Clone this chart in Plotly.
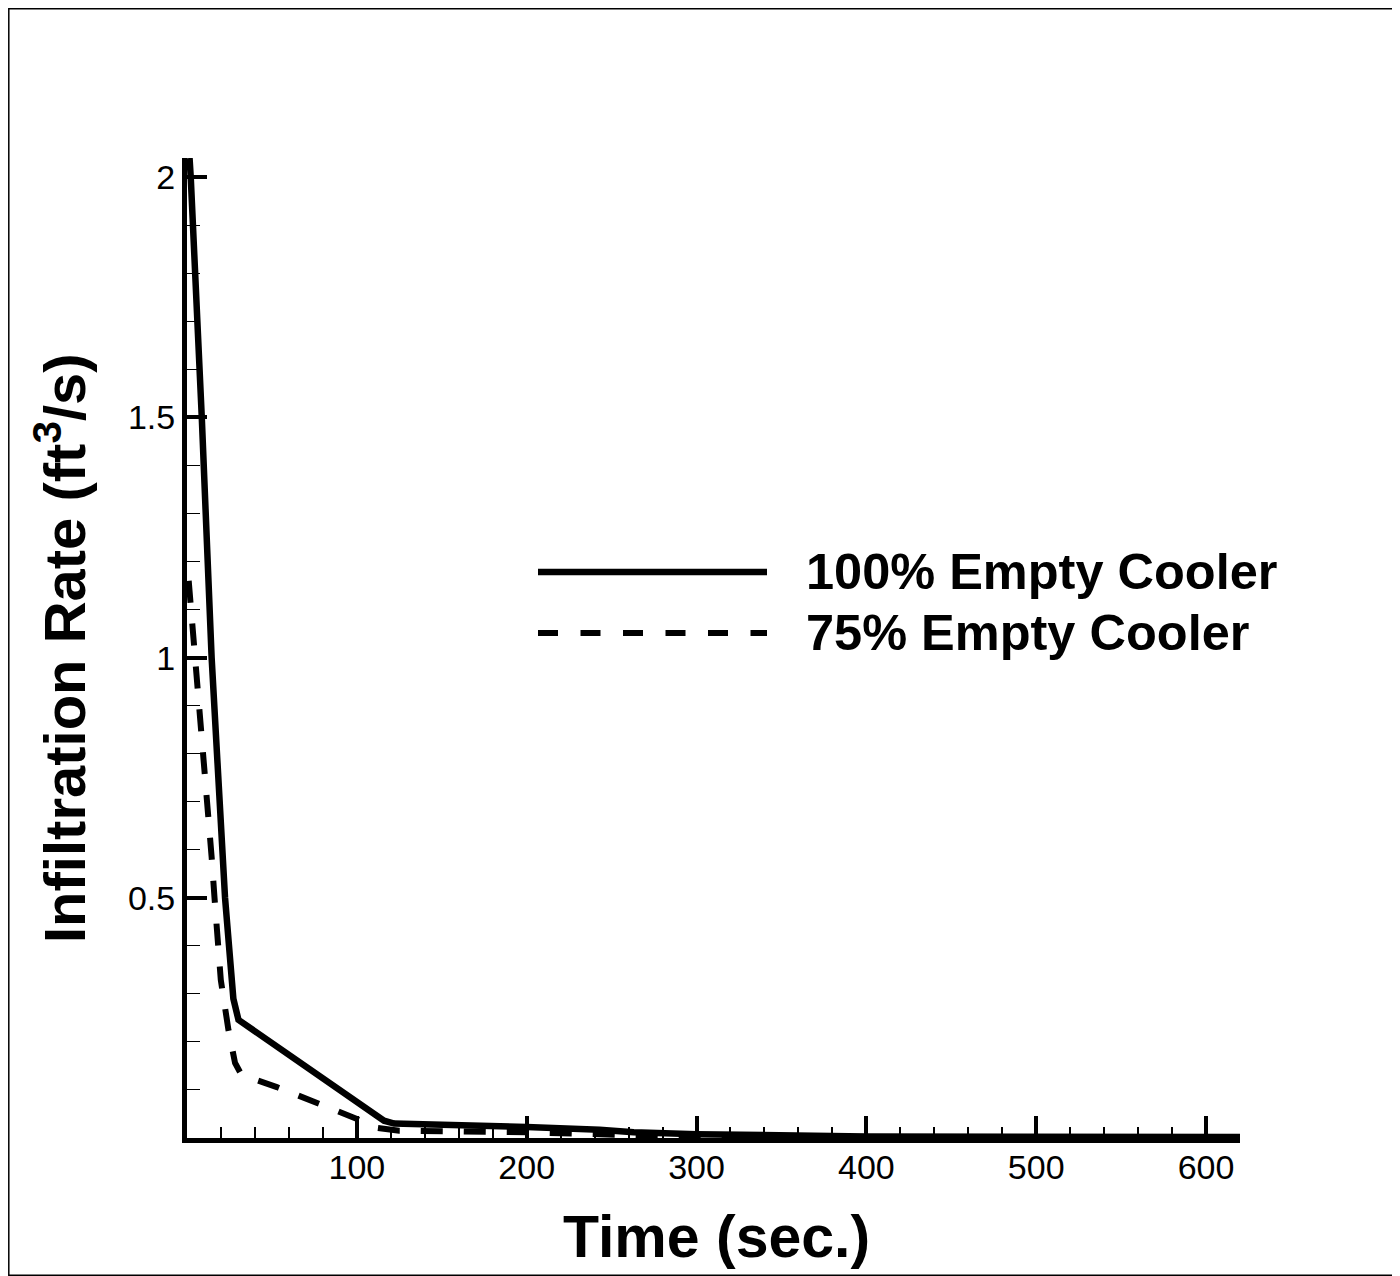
import plotly.graph_objects as go

# ---- data ----
t_100 = [1.5, 2.2, 8.7, 14.5, 22.4, 24.8, 27.3, 30.3, 66.6, 100, 108, 116, 122, 160, 200, 243, 263, 300, 350, 400, 620]
q_100 = [2.04, 2.0, 1.5, 1.0, 0.5, 0.39, 0.29, 0.246, 0.157, 0.076, 0.055, 0.036, 0.030, 0.027, 0.023, 0.017, 0.012, 0.008, 0.006, 0.003, 0.002]

t_75 = [1.0, 6.3, 10.6, 14.5, 16.2, 19.9, 24.4, 28.3, 32.2, 52.9, 79.4, 104, 110, 125, 200, 250, 300, 620]
q_75 = [1.16, 0.948, 0.767, 0.585, 0.5, 0.329, 0.225, 0.156, 0.131, 0.106, 0.069, 0.034, 0.022, 0.015, 0.012, 0.006, 0.002, 0.001]

series_names = ["100% Empty Cooler", "75% Empty Cooler"]
x_tick_vals = [100, 200, 300, 400, 500, 600]
x_tick_text = ["100", "200", "300", "400", "500", "600"]
y_tick_vals = [0.5, 1, 1.5, 2]
y_tick_text = ["0.5", "1", "1.5", "2"]

FONT = "Liberation Sans, Arial, sans-serif"

fig = go.Figure()
fig.add_trace(go.Scatter(x=t_100, y=q_100, mode="lines", name=series_names[0],
                         line=dict(color="black", width=6.5), showlegend=False))
fig.add_trace(go.Scatter(x=t_75, y=q_75, mode="lines", name=series_names[1],
                         line=dict(color="black", width=6, dash="22px,21px"), showlegend=False))

# page offset from the browser's default body margin
OFF = 8
W, H = 1400 - OFF, 1276 - OFF
# plot area in page pixels: x 187..1240, y 158..1138
L, T = 187 - OFF, 158 - OFF
R = (1400 - OFF) - (1240 - OFF)
B = (1276 - OFF) - (1138 - OFF)
pw, ph = 1240 - 187, 1138 - 158

def px(xp):
    return (xp - 187) / pw

def py(yp):
    return (1138 - yp) / ph

fig.update_layout(
    width=W, height=H,
    margin=dict(l=L, r=R, t=T, b=B),
    paper_bgcolor="white", plot_bgcolor="white",
    font=dict(family=FONT, color="black"),
    xaxis=dict(range=[0, 620], showgrid=False, zeroline=False,
               showline=True, linewidth=5, linecolor="black",
               ticks="inside", ticklen=22, tickwidth=4, tickcolor="black",
               tickmode="array", tickvals=x_tick_vals, ticktext=x_tick_text,
               tickfont=dict(size=34, family=FONT), ticklabelstandoff=-5,
               minor=dict(ticks="inside", ticklen=11, tickwidth=1.5, tickcolor="black",
                          tickmode="linear", tick0=0, dtick=20)),
    yaxis=dict(range=[0, 2.04], showgrid=False, zeroline=False,
               showline=True, linewidth=5, linecolor="black",
               ticks="inside", ticklen=20, tickwidth=4, tickcolor="black",
               tickmode="array", tickvals=y_tick_vals, ticktext=y_tick_text,
               tickfont=dict(size=34, family=FONT), ticklabelstandoff=0,
               minor=dict(ticks="inside", ticklen=13, tickwidth=1.2, tickcolor="black",
                          tickmode="linear", tick0=0, dtick=0.1)),
)

# axis titles
fig.add_annotation(text="<b>Time (sec.)</b>", xref="paper", yref="paper",
                   x=px(716), y=py(1237), xanchor="center", yanchor="middle",
                   showarrow=False, font=dict(size=59, family=FONT))
fig.add_annotation(text="<b>Infiltration Rate (ft<sup>3</sup>/s)</b>", xref="paper", yref="paper",
                   x=px(60), y=py(648), xanchor="center", yanchor="middle", textangle=-90,
                   showarrow=False, font=dict(size=58, family=FONT))

# legend (manual)
fig.add_shape(type="line", xref="paper", yref="paper",
              x0=px(538), x1=px(767), y0=py(572), y1=py(572),
              line=dict(color="black", width=6.5))
fig.add_shape(type="line", xref="paper", yref="paper",
              x0=px(538), x1=px(767), y0=py(633), y1=py(633),
              line=dict(color="black", width=6, dash="20px,22.5px"))
fig.add_annotation(text="<b>" + series_names[0] + "</b>", xref="paper", yref="paper",
                   x=px(804), y=py(571), xanchor="left", yanchor="middle",
                   showarrow=False, font=dict(size=50.5, family=FONT))
fig.add_annotation(text="<b>" + series_names[1] + "</b>", xref="paper", yref="paper",
                   x=px(804), y=py(632), xanchor="left", yanchor="middle",
                   showarrow=False, font=dict(size=50.5, family=FONT))

# outer frame (page edge of the figure)
fig.add_shape(type="rect", xref="paper", yref="paper",
              x0=px(OFF + 0.8), x1=px(1399.2), y0=py(1275.2), y1=py(OFF + 0.8),
              line=dict(color="black", width=1.5), layer="below")

fig.write_html("out.html")
